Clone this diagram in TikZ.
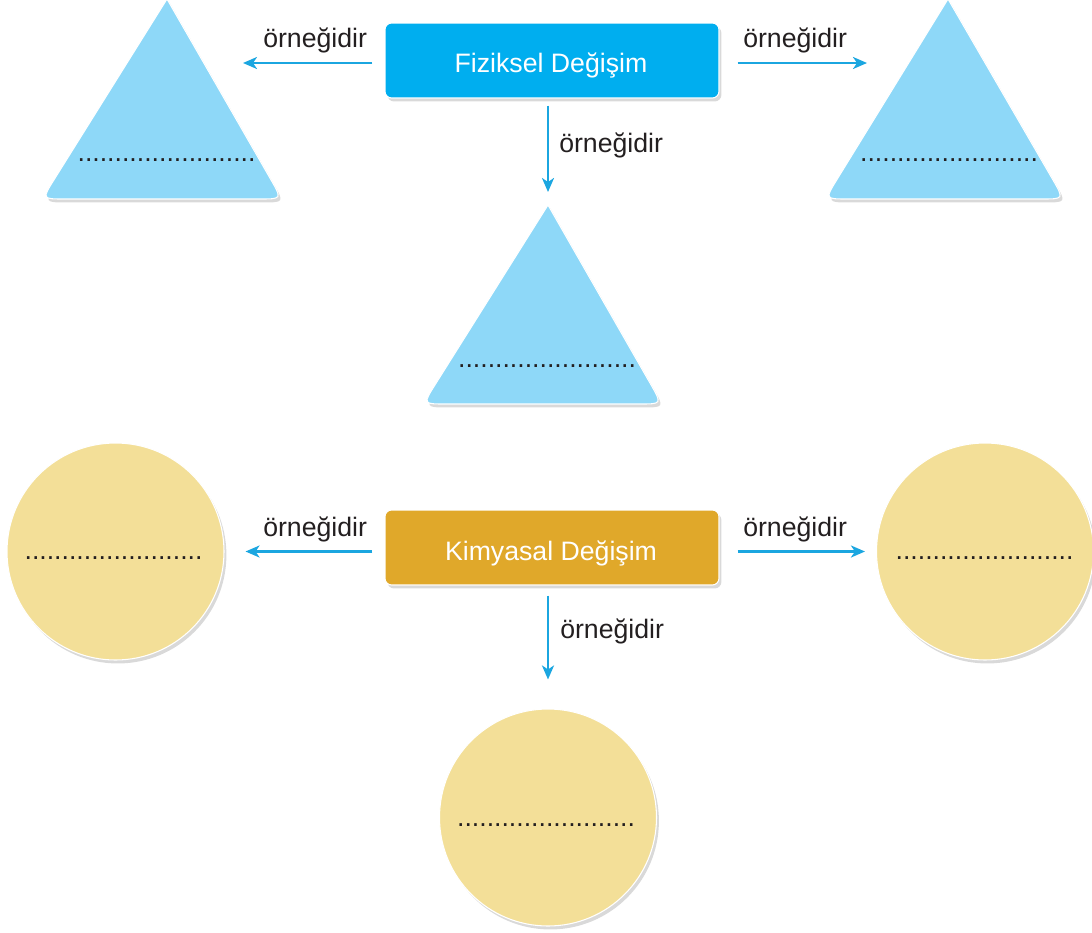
\documentclass[tikz,border=0pt]{standalone}
\usepackage{fontspec}
\setmainfont{Liberation Sans}
\usetikzlibrary{shadows,calc,arrows.meta}
\definecolor{fzblue}{HTML}{00AEEF}
\definecolor{triblue}{HTML}{8ED8F8}
\definecolor{kmgold}{HTML}{E0A82A}
\definecolor{circyel}{HTML}{F3DF98}
\definecolor{arrblue}{HTML}{1BA6E0}
\definecolor{txt}{HTML}{231F20}
\tikzset{
  shad/.style={drop shadow={opacity=0.3,shadow xshift=1.8pt,shadow yshift=-2.6pt}},
  mainbox/.style={shad,draw=white,line width=0.8pt,rounded corners=5pt,minimum width=250.5pt,minimum height=56.25pt,inner sep=0pt},
  boxtext/.style={anchor=base,text=white,font=\fontsize{20}{24}\selectfont},
  lbl/.style={anchor=base west,text=txt,font=\fontsize{20}{24}\selectfont,inner sep=0pt},
  blank/.style={anchor=base,text=txt,font=\fontsize{20}{24}\selectfont,inner sep=0pt},
  tri/.style={shad,fill=triblue,draw=white,line width=0.8pt},
  circ/.style={shad,circle,fill=circyel,draw=white,line width=0.8pt,minimum size=162.75pt,inner sep=0pt},
  arr/.style={draw=arrblue,line width=1.8pt,-{Stealth[length=10.5pt,width=9pt,inset=3pt]}}
}
\newcommand{\mytri}[3]{%
  \path[tri] (#1) -- ($(#3)!17pt!(#1)$) .. controls (#3) .. ($(#3)!17pt!(#2)$)
    -- ($(#2)!17pt!(#3)$) .. controls (#2) .. ($(#2)!17pt!(#1)$) -- cycle;}
\begin{document}
\begin{tikzpicture}[x=0.75pt,y=-0.75pt]
\useasboundingbox (0,0) rectangle (1092,932);
% triangle vertices
\coordinate (tlA) at (167,-1);  \coordinate (tlL) at (42,199);  \coordinate (tlR) at (282,199);
\coordinate (trA) at (948,-1);  \coordinate (trL) at (825,199); \coordinate (trR) at (1064,199);
\coordinate (mtA) at (548,205);\coordinate (mtL) at (423,404); \coordinate (mtR) at (662,404);
\mytri{tlA}{tlL}{tlR}
\mytri{trA}{trL}{trR}
\mytri{mtA}{mtL}{mtR}
\node[blank] (tld) at (166.5,161) {........................};
\node[blank] (trd) at (949,161) {........................};
\node[blank] (mtd) at (547,367) {........................};
% arrow end points near triangles
\coordinate (tlend) at (243,63);
\coordinate (trend) at (867,63);
% top box
\node[mainbox,fill=fzblue] (fz) at (552,60.5) {};
\node[boxtext] (fzt) at (551,72) {Fiziksel Değişim};
% circles
\node[circ] (lc) at (115.5,551.5) {};
\node[circ] (rc) at (985,551.5) {};
\node[circ] (bc) at (548,817.5) {};
\node[blank] (lcd) at (113.5,559.5) {........................};
\node[blank] (rcd) at (984.5,559) {........................};
\node[blank] (bcd) at (546,826.5) {........................};
% bottom box
\node[mainbox,fill=kmgold] (km) at (552,547.5) {};
\node[boxtext] (kmt) at (551,560) {Kimyasal Değişim};
% arrows top
\draw[arr,shorten <=9pt] (fz.west |- tlend) -- (tlend);
\draw[arr,shorten <=13.5pt] (fz.east |- trend) -- (trend);
\draw[arr,shorten <=5.25pt,shorten >=9.75pt] (mtA |- fz.south) -- (mtA);
% arrows bottom
\draw[arr,shorten <=9pt,shorten >=15.75pt] (km.west |- lc) -- (lc.east);
\draw[arr,shorten <=13.5pt,shorten >=8.25pt] (km.east |- rc) -- (rc.west);
\draw[arr,shorten <=7.5pt,shorten >=21.75pt] (bc |- km.south) -- (bc.north);
% labels
\node[lbl] (l1) at (263,47) {örneğidir};
\node[lbl] (l2) at (743,47) {örneğidir};
\node[lbl] (l3) at (559,152) {örneğidir};
\node[lbl] (l4) at (263,536) {örneğidir};
\node[lbl] (l5) at (743,536) {örneğidir};
\node[lbl] (l6) at (560,638) {örneğidir};
\end{tikzpicture}
\end{document}
